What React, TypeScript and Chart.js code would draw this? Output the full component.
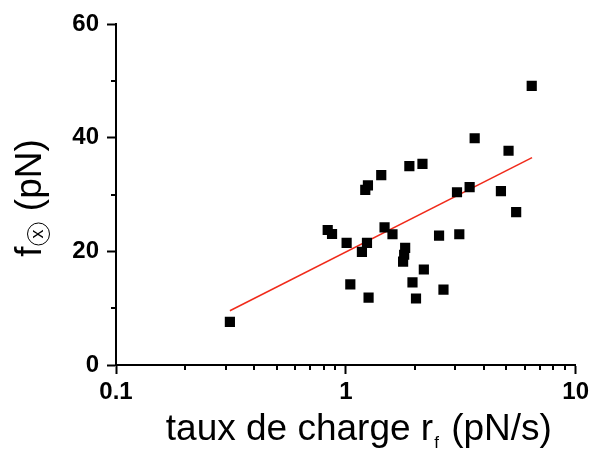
import React, { useEffect, useRef } from 'react';
import { Chart, registerables } from 'chart.js';

Chart.register(...registerables);

// Loading rate r_f (pN/s)
const rateValues = [
  0.313, 0.834, 0.871, 1.008, 1.046, 1.175, 1.236, 1.215, 1.248, 1.256, 1.426,
  1.474, 1.596, 1.812, 1.794, 1.775, 1.89, 1.95, 2.02, 2.155, 2.185, 2.545,
  2.66, 3.046, 3.117, 3.457, 3.636, 4.73, 5.105, 5.51, 6.44,
];
// Force f (pN)
const forceValues = [
  7.6, 23.75, 23.05, 21.5, 14.2, 19.9, 21.5, 30.8, 31.6, 11.85, 33.4,
  24.2, 23.0, 20.6, 19.4, 18.2, 35.0, 14.55, 11.7, 35.4, 16.8, 22.75,
  13.25, 30.4, 23.0, 31.3, 39.9, 30.6, 37.7, 26.9, 49.1,
];
// Fit line endpoints
const fitRates = [0.313, 6.46];
const fitForces = [9.55, 36.5];

const xTickLabels = [0.1, 1, 10];
const xMinorTicks = [0.2, 0.3, 0.4, 0.5, 0.6, 0.7, 0.8, 0.9, 2, 3, 4, 5, 6, 7, 8, 9];
const yTickLabels = [0, 20, 40, 60];
const yMinorTicks = [10, 30, 50];

const FONT = '"Liberation Sans", Arial, sans-serif';

const decorPlugin = {
  id: 'decor',
  afterDraw(chart: any) {
    const { ctx, chartArea, scales } = chart;
    const xs = scales.x;
    const ys = scales.y;
    ctx.save();
    ctx.strokeStyle = '#000';
    ctx.lineWidth = 2;
    ctx.beginPath();
    for (const v of xMinorTicks) {
      const px = Math.round(xs.getPixelForValue(v));
      ctx.moveTo(px, chartArea.bottom);
      ctx.lineTo(px, chartArea.bottom + 5);
    }
    for (const v of yMinorTicks) {
      const py = Math.round(ys.getPixelForValue(v));
      ctx.moveTo(chartArea.left, py);
      ctx.lineTo(chartArea.left - 5, py);
    }
    ctx.stroke();

    // X title
    ctx.fillStyle = '#000';
    ctx.textBaseline = 'alphabetic';
    ctx.textAlign = 'left';
    const mainFont = `37px ${FONT}`;
    const subFont = `17px ${FONT}`;
    ctx.font = mainFont;
    const p1 = 'taux de charge r';
    const p2 = ' (pN/s)';
    const w1 = ctx.measureText(p1).width;
    const w2 = ctx.measureText(p2).width;
    ctx.font = subFont;
    const ws = ctx.measureText('f').width + 3;
    const total = w1 + ws + w2;
    const cx = (chartArea.left + chartArea.right) / 2 + 13;
    const by = 440;
    let sx = cx - total / 2;
    ctx.font = mainFont;
    ctx.fillText(p1, sx, by);
    ctx.font = subFont;
    ctx.fillText('f', sx + w1 + 1, by + 8);
    ctx.font = mainFont;
    ctx.fillText(p2, sx + w1 + ws, by);

    // Y title
    ctx.translate(41, 198);
    ctx.rotate(-Math.PI / 2);
    ctx.font = mainFont;
    const wf = ctx.measureText('f').width;
    const q2 = ' (pN)';
    const wq = ctx.measureText(q2).width;
    const circleW = 25;
    const ytotal = wf + circleW + wq;
    const ys0 = -ytotal / 2;
    ctx.fillText('f', ys0, 0);
    const ccx = ys0 + wf + 12.5;
    const ccy = -2.5;
    ctx.lineWidth = 1;
    ctx.beginPath();
    ctx.arc(ccx, ccy, 11, 0, Math.PI * 2);
    ctx.stroke();
    ctx.font = `18px ${FONT}`;
    ctx.textAlign = 'center';
    ctx.textBaseline = 'middle';
    ctx.fillText('x', ccx, ccy);
    ctx.textAlign = 'left';
    ctx.textBaseline = 'alphabetic';
    ctx.font = mainFont;
    ctx.fillText(q2, ys0 + wf + circleW, 0);
    ctx.restore();
  },
};

export default function App() {
  const canvasRef = useRef<HTMLCanvasElement | null>(null);

  useEffect(() => {
    const canvas = canvasRef.current;
    if (!canvas) return;
    const tickFont = { family: FONT, size: 24, weight: 'bold' as const };
    const chart = new Chart(canvas, {
      type: 'scatter',
      data: {
        datasets: [
          {
            label: 'data',
            data: rateValues.map((x, i) => ({ x, y: forceValues[i] })),
            pointStyle: 'rect',
            pointRadius: 7.2,
            pointBackgroundColor: '#000',
            pointBorderWidth: 0,
            borderWidth: 0,
            showLine: false,
          },
          {
            label: 'fit',
            data: fitRates.map((x, i) => ({ x, y: fitForces[i] })),
            showLine: true,
            borderColor: '#f02a1a',
            borderWidth: 1.5,
            pointRadius: 0,
            fill: false,
          },
        ],
      },
      options: {
        responsive: false,
        animation: false,
        layout: { padding: { left: 0, top: 24, right: 16, bottom: 0 } },
        plugins: { legend: { display: false }, tooltip: { enabled: false } },
        scales: {
          x: {
            type: 'logarithmic',
            min: 0.1,
            max: 10,
            afterBuildTicks: (s: any) => {
              s.ticks = xTickLabels.map((v) => ({ value: v }));
            },
            afterFit: (s: any) => {
              s.height = 85;
            },
            ticks: {
              autoSkip: false,
              maxRotation: 0,
              color: '#000',
              font: tickFont,
              padding: 4,
              callback: (v: any) => String(v),
            },
            grid: {
              drawOnChartArea: false,
              drawTicks: true,
              tickLength: 9,
              tickWidth: 2,
              tickColor: '#000',
            },
            border: { display: true, color: '#000', width: 2 },
          },
          y: {
            type: 'linear',
            min: 0,
            max: 60,
            afterBuildTicks: (s: any) => {
              s.ticks = yTickLabels.map((v) => ({ value: v }));
            },
            afterFit: (s: any) => {
              s.width = 116;
            },
            ticks: {
              autoSkip: false,
              color: '#000',
              font: tickFont,
              padding: 8,
              callback: (v: any) => String(v),
            },
            grid: {
              drawOnChartArea: false,
              drawTicks: true,
              tickLength: 9,
              tickWidth: 2,
              tickColor: '#000',
            },
            border: { display: true, color: '#000', width: 2 },
          },
        },
      },
      plugins: [decorPlugin],
    });
    return () => chart.destroy();
  }, []);

  return (
    <div style={{ position: 'absolute', left: 0, top: 0, width: 593, height: 450, background: '#fff' }}>
      <canvas ref={canvasRef} width={593} height={450} style={{ display: 'block' }} />
    </div>
  );
}
